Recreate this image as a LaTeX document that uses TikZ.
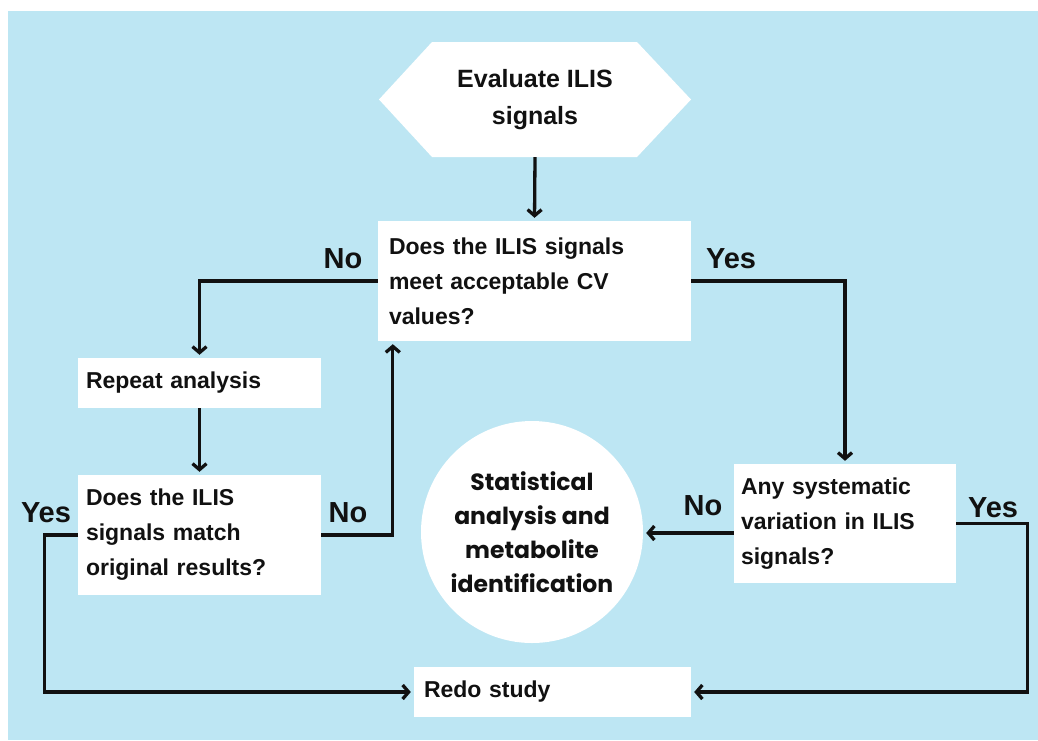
\documentclass[tikz,border=0pt]{standalone}
\usepackage{fontspec}
\setmainfont{Liberation Sans}
\newfontfamily\circfont{Poppins}
\usetikzlibrary{arrows.meta,calc}
\definecolor{bgblue}{RGB}{189,230,243}
\definecolor{ink}{RGB}{17,17,17}
\tikzset{
  boxnode/.style={rectangle, fill=white, inner ysep=0pt, align=left, text=ink,
    font=\bfseries\fontsize{23}{35}\selectfont},
  lbl/.style={anchor=base, text=ink, inner sep=0pt, font=\bfseries\fontsize{29}{29}\selectfont},
  conn/.style={line width=3.3pt, draw=ink, line join=miter},
  arr/.style={conn, -{Straight Barb[length=6pt,width=14pt]}, shorten >=3pt},
}
\begin{document}
\begin{tikzpicture}[x=1pt,y=-1pt]
\useasboundingbox (0,0) rectangle (1038,740);
\fill[bgblue] (8,11) rectangle (1038,740);

% start hexagon
\fill[white] (379,99.5) -- (432,42) -- (637,42) -- (691,99.5) -- (637,157) -- (432,157) -- cycle;
\node[align=center, text=ink, minimum width=312pt, minimum height=115pt, inner sep=0pt,
  font=\bfseries\fontsize{25}{37}\selectfont] (hex) at (535,99.5) {Evaluate ILIS\\signals};

% boxes
\node[boxnode, minimum height=120pt, text width=291pt, inner xsep=11pt] (q1) at (534.5,281)
  {Does the ILIS signals\\meet acceptable CV\\values?};
\node[boxnode, minimum height=50pt, text width=227pt, inner xsep=8pt] (rep) at (199.5,383)
  {Repeat analysis};
\node[boxnode, minimum height=120pt, text width=227pt, inner xsep=8pt] (q2) at (199.5,535)
  {Does the ILIS\\signals match\\original results?};
\node[boxnode, minimum height=119pt, text width=208pt, inner xsep=7pt] (q3) at (845,523.5)
  {Any systematic\\variation in ILIS\\signals?};
\node[boxnode, minimum height=50pt, text width=257pt, inner xsep=10pt] (redo) at (552.5,692)
  {Redo study};
\node[circle, fill=white, minimum size=222pt, inner sep=0pt, align=center, text=ink,
  font=\circfont\bfseries\fontsize{23.5}{34}\selectfont] (stat) at (532,532)
  {Statistical\\analysis and\\metabolite\\identification};

% connectors
\coordinate (q3no) at ($(q3.west)+(0,9.5)$);
\draw[arr] (hex.south) -- (q1.north);
\draw[arr] (q1.west) -| (rep.north);
\draw[arr] (q1.east) -| (q3.north);
\draw[arr] (rep.south) -- (q2.north);
\draw[arr] (q2.east) -| ([xshift=15pt]q1.south west);
\draw[arr] (q2.west) -- ++(-33,0) |- (redo.west);
\draw[arr] (q3no) -- (q3no -| stat.east);
\draw[arr] (q3.east) -- ++(71,0) |- (redo.east);

% labels
\node[lbl] (l1) at (343,268) {No};
\node[lbl] (l2) at (731,268) {Yes};
\node[lbl] (l3) at (46,522) {Yes};
\node[lbl] (l4) at (348,522) {No};
\node[lbl] (l5) at (703,515) {No};
\node[lbl] (l6) at (993,517) {Yes};
\end{tikzpicture}
\end{document}
